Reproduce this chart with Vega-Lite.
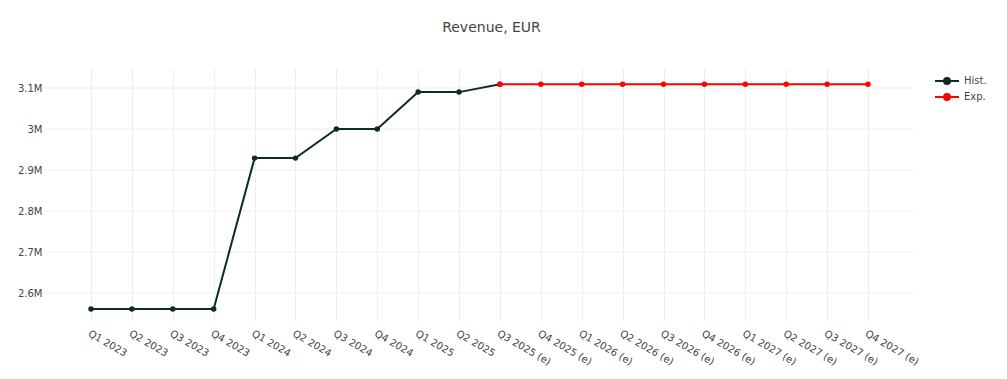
{
  "$schema": "https://vega.github.io/schema/vega-lite/v6.json",
  "autosize": {"type": "none"},
  "padding": {"left": 44, "top": 68, "right": 94, "bottom": 57},
  "width": 869,
  "height": 254,
  "background": "white",
  "config": {
    "font": "DejaVu Sans",
    "view": {"stroke": null}
  },
  "title": {
    "text": "Revenue, EUR",
    "fontSize": 14,
    "fontWeight": "normal",
    "color": "#444",
    "font": "DejaVu Sans",
    "anchor": "middle",
    "dx": 13,
    "offset": 22,
    "baseline": "alphabetic"
  },
  "layer": [
    {
      "data": {"values": [{"t": 2600000}, {"t": 2700000}, {"t": 2800000}, {"t": 2900000}, {"t": 3000000}, {"t": 3100000}]},
      "mark": {"type": "rule", "color": "#eeeeee", "strokeWidth": 1},
      "encoding": {
        "y": {"field": "t", "type": "quantitative"}
      }
    },
    {
      "data": {
        "values": [
          {"q": "Q1 2023", "v": 2561000, "s": "Hist."},
          {"q": "Q2 2023", "v": 2561000, "s": "Hist."},
          {"q": "Q3 2023", "v": 2561000, "s": "Hist."},
          {"q": "Q4 2023", "v": 2561000, "s": "Hist."},
          {"q": "Q1 2024", "v": 2929000, "s": "Hist."},
          {"q": "Q2 2024", "v": 2929000, "s": "Hist."},
          {"q": "Q3 2024", "v": 3000000, "s": "Hist."},
          {"q": "Q4 2024", "v": 3000000, "s": "Hist."},
          {"q": "Q1 2025", "v": 3090000, "s": "Hist."},
          {"q": "Q2 2025", "v": 3090000, "s": "Hist."},
          {"q": "Q3 2025 (e)", "v": 3109000, "s": "Hist."},
          {"q": "Q3 2025 (e)", "v": 3109000, "s": "Exp."},
          {"q": "Q4 2025 (e)", "v": 3109000, "s": "Exp."},
          {"q": "Q1 2026 (e)", "v": 3109000, "s": "Exp."},
          {"q": "Q2 2026 (e)", "v": 3109000, "s": "Exp."},
          {"q": "Q3 2026 (e)", "v": 3109000, "s": "Exp."},
          {"q": "Q4 2026 (e)", "v": 3109000, "s": "Exp."},
          {"q": "Q1 2027 (e)", "v": 3109000, "s": "Exp."},
          {"q": "Q2 2027 (e)", "v": 3109000, "s": "Exp."},
          {"q": "Q3 2027 (e)", "v": 3109000, "s": "Exp."},
          {"q": "Q4 2027 (e)", "v": 3109000, "s": "Exp."}
        ]
      },
      "encoding": {
        "x": {
          "field": "q",
          "type": "ordinal",
          "sort": null,
          "scale": {"type": "point", "range": [47, 824], "padding": 0},
          "axis": {
            "title": null,
            "labelAngle": 30,
            "labelAlign": "left",
            "labelBaseline": "top",
            "labelPadding": 6,
            "labelFontSize": 10,
            "labelColor": "#444",
            "labelFont": "DejaVu Sans",
            "domain": false,
            "ticks": false,
            "grid": true,
            "gridColor": "#eeeeee",
            "gridWidth": 1
          }
        },
        "y": {
          "field": "v",
          "type": "quantitative",
          "scale": {"domain": [2529300, 3148800], "nice": false, "zero": false},
          "axis": {
            "title": null,
            "values": [2600000, 2700000, 2800000, 2900000, 3000000, 3100000],
            "format": "~s",
            "labelPadding": 2,
            "labelFontSize": 10,
            "labelColor": "#444",
            "labelFont": "DejaVu Sans",
            "domain": false,
            "ticks": false,
            "grid": false
          }
        },
        "color": {
          "field": "s",
          "type": "nominal",
          "sort": null,
          "scale": {"domain": ["Hist.", "Exp."], "range": ["#0e2b2b", "#ff0000"]},
          "legend": {
            "title": null,
            "orient": "none",
            "legendX": 897,
            "legendY": 7,
            "symbolType": "M-2.4,0H2.4M-0.6,0A0.6,0.6 0 1,1 0.6,0A0.6,0.6 0 1,1 -0.6,0Z",
            "symbolSize": 100,
            "symbolStrokeWidth": 2,
            "labelFontSize": 10,
            "labelColor": "#444",
            "labelFont": "DejaVu Sans",
            "labelOffset": 11,
            "rowPadding": 2
          }
        }
      },
      "layer": [
        {"mark": {"type": "line", "strokeWidth": 2}},
        {"mark": {"type": "point", "filled": true, "opacity": 1, "size": 30}}
      ]
    }
  ]
}
